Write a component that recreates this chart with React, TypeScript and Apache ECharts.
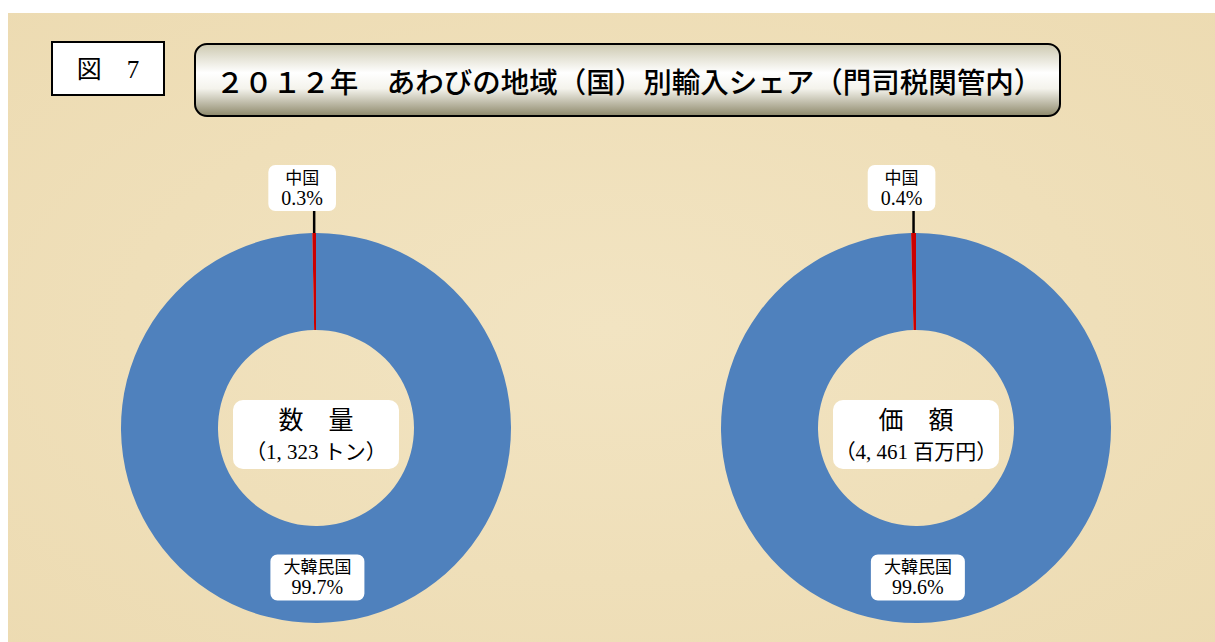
import React, { useEffect, useRef } from "react";
import * as echarts from "echarts";

// ---- data ----
const categories = ["大韓民国", "中国"];
const quantityShare = [99.7, 0.3]; // %
const valueShare = [99.6, 0.4]; // %
const centerTitles = ["数　量", "価　額"];
const centerTotals = ["（1, 323 トン）", "（4, 461 百万円）"];
const figureLabel = "図　7";
const chartTitle = "２０１２年　あわびの地域（国）別輸入シェア（門司税関管内）";

const sliceColors = ["#4F81BD", "#CC0000"];
const SERIF = "'Liberation Serif', 'DejaVu Serif', 'Noto Sans CJK JP', serif";
const GOTHIC = "'Noto Sans CJK JP', sans-serif";

function pieSeries(center: number[], values: number[]) {
  return {
    type: "pie",
    center,
    radius: [98, 195],
    startAngle: 90,
    clockwise: true,
    silent: true,
    avoidLabelOverlap: false,
    z: 2,
    label: {
      show: true,
      formatter: "{n|{b}}\n{v|{c}%}",
      backgroundColor: "#ffffff",
      borderRadius: 7,
      padding: [4, 13, 4, 13],
      color: "#000",
      rich: {
        n: { fontSize: 17, lineHeight: 19, fontFamily: SERIF, color: "#000", align: "center" },
        v: { fontSize: 20, lineHeight: 19, fontFamily: SERIF, color: "#000", align: "center" },
      },
    },
    labelLayout: (p: any) => {
      if (p.dataIndex !== 1 || !p.labelLinePoints) return {};
      const a = p.labelLinePoints[0];
      const b = p.labelLinePoints[1];
      const top = [a[0], b[1]];
      return {
        x: a[0] - 12,
        y: top[1],
        align: "center",
        verticalAlign: "bottom",
        labelLinePoints: [a, top, top],
      };
    },
    data: categories.map((name, i) => ({
      name,
      value: values[i],
      itemStyle: { color: sliceColors[i], borderWidth: 0 },
      label: { position: i === 0 ? "inside" : "outside" },
      labelLine: {
        show: i === 1,
        length: 22,
        length2: 0,
        smooth: false,
        lineStyle: { color: "#000", width: 2.5 },
      },
    })),
  };
}

function centerBox(cx: number, cy: number, title: string, total: string) {
  return {
    type: "group",
    z: 100,
    children: [
      {
        type: "rect",
        shape: { x: cx - 83, y: cy - 28, width: 166, height: 69, r: 10 },
        style: { fill: "#ffffff" },
        z: 100,
      },
      {
        type: "text",
        x: cx,
        y: cy - 8,
        z: 101,
        style: {
          text: title,
          fill: "#000",
          font: `25px ${SERIF}`,
          align: "center",
          verticalAlign: "middle",
        },
      },
      {
        type: "text",
        x: cx,
        y: cy + 24,
        z: 101,
        style: {
          text: total,
          fill: "#000",
          font: `21px ${SERIF}`,
          align: "center",
          verticalAlign: "middle",
        },
      },
    ],
  };
}

export default function App() {
  const ref = useRef<HTMLDivElement>(null);
  useEffect(() => {
    if (!ref.current) return;
    const chart = echarts.init(ref.current, null, { renderer: "svg" });
    const centers = [
      [316, 428],
      [916, 428],
    ];
    chart.setOption({
      animation: false,
      backgroundColor: "#ffffff",
      graphic: [
        {
          type: "rect",
          z: -10,
          shape: { x: 8, y: 13, width: 1207, height: 629 },
          style: {
            fill: {
              type: "radial",
              x: 0.5,
              y: 0.5,
              r: 0.8,
              colorStops: [
                { offset: 0, color: "#F2E4C2" },
                { offset: 1, color: "#ECDAB0" },
              ],
            },
          },
        },
        {
          type: "rect",
          z: 50,
          shape: { x: 52, y: 42, width: 112, height: 53 },
          style: { fill: "#ffffff", stroke: "#000", lineWidth: 2 },
        },
        {
          type: "text",
          z: 51,
          x: 108,
          y: 69,
          style: {
            text: figureLabel,
            fill: "#000",
            font: `25px ${SERIF}`,
            align: "center",
            verticalAlign: "middle",
          },
        },
        {
          type: "rect",
          z: 50,
          shape: { x: 195, y: 44, width: 865, height: 72, r: 12 },
          style: {
            stroke: "#000",
            lineWidth: 2,
            fill: {
              type: "linear",
              x: 0,
              y: 0,
              x2: 0,
              y2: 1,
              colorStops: [
                { offset: 0, color: "#CDC9B0" },
                { offset: 0.4, color: "#FFFFFF" },
                { offset: 0.62, color: "#F4F3EC" },
                { offset: 1, color: "#8D886A" },
              ],
            },
          },
        },
        {
          type: "text",
          z: 51,
          x: 629,
          y: 80,
          style: {
            text: chartTitle,
            fill: "#000",
            font: `500 28.5px ${GOTHIC}`,
            align: "center",
            verticalAlign: "middle",
          },
        },
        centerBox(centers[0][0], centers[0][1], centerTitles[0], centerTotals[0]),
        centerBox(centers[1][0], centers[1][1], centerTitles[1], centerTotals[1]),
      ],
      series: [pieSeries(centers[0], quantityShare), pieSeries(centers[1], valueShare)],
    });
    return () => chart.dispose();
  }, []);
  return (
    <div
      ref={ref}
      style={{ position: "fixed", left: 0, top: 0, width: 1215, height: 642 }}
    />
  );
}
